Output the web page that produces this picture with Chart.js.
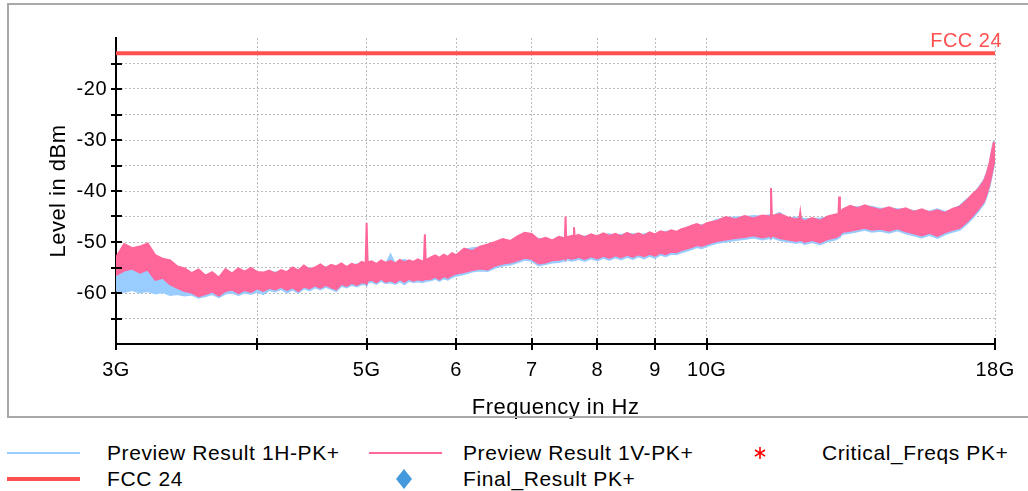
<!DOCTYPE html>
<html>
<head>
<meta charset="utf-8">
<script src="https://cdn.jsdelivr.net/npm/chart.js@4.4.1/dist/chart.umd.min.js"></script>
<style>
    body { margin: 0; background: #fff; font-family: "Liberation Sans", Arial, sans-serif; }
    #wrap { position: relative; width: 1028px; height: 491px; overflow: hidden; }
    #plot { position: absolute; left: 0; top: 0; }
    #frame { position: absolute; left: 7px; top: 3px; width: 1030px; height: 411px; border: 2px solid #a8a8a8; pointer-events: none; }
    .lg-text { position: absolute; font-size: 21px; line-height: 24px; letter-spacing: 0.6px; color: #000; white-space: nowrap; }
    .lg-sym { position: absolute; }
</style>
</head>
<body>
<div id="wrap">
    <canvas id="plot" width="1028" height="420"></canvas>
    <div id="frame"></div>
    <div id="legend"></div>
</div>
<script>
// sweep frequencies in GHz
const freqGHz = [
    3.00, 3.05, 3.10, 3.15, 3.20, 3.25, 3.30, 3.35, 3.40, 3.45, 3.50, 3.55, 3.60, 3.65, 3.70, 3.75, 3.80, 3.85, 3.90, 3.95, 4.00,
    4.05, 4.10, 4.15, 4.20, 4.25, 4.30, 4.35, 4.40, 4.45, 4.50, 4.55, 4.60, 4.65, 4.70, 4.75, 4.80, 4.85, 4.90, 4.95, 4.99, 5.00, 5.01,
    5.05, 5.10, 5.15, 5.20, 5.25, 5.30, 5.35, 5.40, 5.45, 5.50, 5.55, 5.60, 5.62, 5.63, 5.64, 5.70, 5.75, 5.80, 5.85, 5.90, 5.95, 6.00,
    6.1, 6.2, 6.3, 6.4, 6.5, 6.6, 6.7, 6.8, 6.9, 7.0, 7.1, 7.2, 7.3, 7.4, 7.49, 7.50, 7.51, 7.6, 7.62, 7.63, 7.64, 7.7, 7.8, 7.9,
    8.0, 8.1, 8.2, 8.3, 8.4, 8.5, 8.6, 8.7, 8.8, 8.9, 9.0, 9.1, 9.2, 9.3, 9.4, 9.5, 9.6, 9.7, 9.8, 9.9, 10.0,
    10.2, 10.4, 10.6, 10.8, 11.0, 11.2, 11.38, 11.40, 11.42, 11.6, 11.8, 12.0, 12.08, 12.10, 12.12, 12.2, 12.4, 12.6, 12.8, 13.0,
    13.08, 13.10, 13.12, 13.2, 13.4, 13.6, 13.8, 14.0,
    14.25, 14.5, 14.75, 15.0, 15.25, 15.5, 15.75, 16.0, 16.25, 16.5, 16.75, 17.0, 17.2, 17.4, 17.6, 17.7, 17.8, 17.9, 17.95, 18.0
];

// Preview Result 1V-PK+ (upper / lower edge of the trace, dBm)
const vHigh = [
    -53.0, -50.4, -51.2, -50.9, -50.3, -52.6, -53.3, -53.6, -54.8, -55.2, -56.1, -55.4, -56.6, -55.9, -57.0, -55.3, -56.2, -55.2, -55.8, -55.1, -55.9,
    -56.0, -55.6, -56.2, -55.5, -55.9, -55.0, -55.6, -54.6, -55.4, -55.0, -54.4, -55.1, -54.5, -54.8, -54.2, -54.9, -54.3, -54.6, -53.9, -54.2, -46.3, -54.0,
    -53.8, -54.3, -53.6, -54.1, -53.7, -54.2, -53.5, -54.0, -53.6, -53.9, -53.4, -53.8, -53.7, -48.5, -53.6, -53.0, -52.6, -53.1, -52.5, -52.9, -52.2, -52.6,
    -51.3, -51.8, -50.9, -50.5, -50.0, -49.4, -49.8, -48.9, -48.2, -48.4, -49.6, -49.2, -49.7, -49.0, -49.3, -45.0, -49.1, -48.8, -49.0, -47.1, -48.9, -48.6, -49.1, -48.5,
    -48.9, -48.3, -48.8, -48.4, -48.9, -48.2, -48.7, -48.3, -48.8, -48.1, -48.5, -47.9, -48.2, -47.7, -48.0, -47.5, -47.2, -46.8, -46.5, -46.9, -46.3,
    -45.9, -45.1, -45.6, -44.9, -45.4, -44.8, -45.0, -39.4, -44.9, -44.5, -45.2, -45.6, -45.4, -44.2, -45.5, -45.9, -45.3, -45.8, -45.0, -44.6,
    -44.5, -41.1, -44.2, -43.6, -42.9, -43.4, -42.8, -43.3,
    -43.7, -43.2, -43.8, -43.4, -44.1, -43.6, -44.2, -43.8, -44.3, -43.5, -43.1, -41.8, -40.6, -39.6, -38.0, -36.6, -34.5, -31.8, -30.6, -30.8
];
const vLow = [
    -56.5, -55.6, -55.2, -56.0, -55.4, -57.4, -57.0, -58.3, -59.0, -59.6, -59.9, -60.6, -60.2, -59.7, -60.5, -59.6, -59.3, -60.0, -59.4, -59.8, -59.1,
    -59.6, -59.0, -59.3, -58.8, -59.4, -58.9, -59.6, -58.7, -59.1, -58.5, -59.0, -58.4, -58.9, -59.3, -58.2, -58.6, -58.0, -58.4, -57.9, -58.0, -58.2, -57.6,
    -57.4, -57.9, -57.2, -57.8, -57.5, -57.9, -57.3, -57.8, -57.2, -57.6, -57.3, -57.5, -57.4, -57.2, -57.3, -57.2, -56.8, -57.3, -56.7, -57.0, -56.5, -56.2,
    -55.9, -55.5, -55.2, -55.4, -54.6, -54.2, -54.0, -53.6, -53.1, -53.3, -54.2, -54.0, -53.6, -53.5, -53.2, -53.4, -53.0, -53.3, -53.1, -53.0, -53.2, -52.9, -53.3, -52.8,
    -53.2, -52.7, -53.1, -52.6, -53.0, -52.5, -52.9, -52.4, -52.8, -52.3, -52.7, -52.1, -52.4, -51.9, -52.0, -51.6, -51.3, -51.0, -50.6, -50.8, -50.4,
    -49.8, -49.5, -49.2, -49.0, -48.7, -49.1, -48.8, -48.9, -48.7, -49.2, -49.5, -49.8, -49.6, -49.7, -49.5, -50.0, -49.6, -50.1, -49.4, -49.1,
    -48.8, -48.6, -48.4, -48.0, -47.8, -47.5, -47.2, -47.6,
    -47.4, -47.8, -47.3, -47.9, -48.3, -48.7, -48.2, -48.8, -48.1, -47.6, -47.2, -46.0, -44.8, -43.5, -42.0, -40.5, -38.6, -36.0, -34.6, -34.2
];

// Preview Result 1H-PK+ (upper / lower edge of the trace, dBm)
const hHigh = [
    -56.0, -55.5, -55.0, -55.6, -55.2, -56.8, -56.8, -58.0, -58.4, -56.6, -57.0, -56.8, -57.2, -56.8, -57.5, -56.2, -56.8, -55.9, -56.0, -55.6, -56.2,
    -56.3, -55.9, -56.0, -55.8, -56.1, -55.3, -55.8, -55.0, -55.2, -55.3, -54.8, -55.0, -54.8, -55.0, -54.6, -55.1, -54.6, -54.4, -54.3, -54.5, -51.5, -54.3,
    -54.1, -54.5, -53.8, -54.3, -52.5, -54.4, -53.8, -53.5, -53.9, -54.1, -53.7, -53.9, -53.9, -53.7, -53.8, -53.2, -53.0, -53.3, -52.8, -53.1, -52.4, -52.9,
    -51.5, -51.2, -51.1, -50.8, -50.2, -49.7, -49.9, -49.2, -48.6, -48.8, -49.4, -49.5, -49.9, -49.3, -49.5, -49.4, -49.3, -49.0, -49.2, -49.1, -49.1, -48.9, -48.9, -48.7,
    -49.1, -48.6, -48.5, -48.7, -48.6, -48.4, -48.5, -48.6, -48.5, -48.3, -48.7, -48.2, -48.0, -47.9, -48.2, -47.7, -47.4, -47.0, -46.7, -46.7, -46.5,
    -45.7, -45.3, -45.2, -45.1, -44.9, -45.0, -44.7, -44.9, -45.0, -44.3, -45.4, -45.2, -45.5, -45.6, -45.3, -45.5, -45.5, -45.4, -45.2, -44.8,
    -44.7, -44.6, -44.5, -43.9, -43.1, -43.2, -43.0, -43.1,
    -43.5, -43.4, -43.6, -43.6, -43.9, -43.8, -44.0, -43.6, -44.1, -43.7, -42.9, -41.6, -40.8, -39.4, -37.8, -36.4, -34.7, -31.6, -30.4, -30.6
];
const hLow = [
    -59.5, -59.8, -59.4, -59.9, -59.6, -60.1, -59.8, -60.4, -60.2, -60.5, -60.3, -60.9, -60.6, -60.2, -60.8, -60.1, -59.9, -60.4, -59.9, -60.2, -59.7,
    -60.2, -59.4, -59.7, -59.2, -59.9, -59.3, -59.9, -59.1, -59.5, -58.9, -59.3, -58.8, -59.2, -59.6, -58.6, -58.9, -58.4, -58.7, -58.3, -58.3, -58.5, -58.0,
    -57.8, -58.2, -57.6, -58.1, -57.9, -58.2, -57.7, -58.3, -57.6, -57.9, -57.7, -57.9, -57.8, -57.6, -57.7, -57.5, -57.2, -57.6, -57.1, -57.4, -56.9, -56.6,
    -56.3, -55.8, -55.6, -55.7, -55.0, -54.6, -54.4, -54.0, -53.5, -53.7, -54.6, -54.3, -54.0, -53.9, -53.6, -53.7, -53.4, -53.7, -53.5, -53.4, -53.6, -53.3, -53.7, -53.2,
    -53.6, -53.1, -53.5, -53.0, -53.4, -52.9, -53.3, -52.8, -53.2, -52.7, -53.1, -52.5, -52.8, -52.3, -52.4, -52.0, -51.7, -51.4, -51.0, -51.2, -50.8,
    -50.2, -49.9, -49.6, -49.4, -49.1, -49.5, -49.2, -49.3, -49.1, -49.6, -49.9, -50.2, -50.0, -50.1, -49.9, -50.4, -50.0, -50.5, -49.8, -49.5,
    -49.2, -49.0, -48.8, -48.4, -48.2, -47.9, -47.6, -48.0,
    -47.8, -48.2, -47.7, -48.3, -48.7, -49.1, -48.6, -49.2, -48.5, -48.0, -47.6, -46.4, -45.2, -43.9, -42.4, -40.9, -39.0, -36.4, -35.0, -34.6
];

// FCC 24 limit line
const fccFreqGHz = [3, 18];
const fccLevel = [-13, -13];

// axes
const xTickValues = [3e9, 4e9, 5e9, 6e9, 7e9, 8e9, 9e9, 10e9, 18e9];
const xTickLabels = ['3G', '', '5G', '6', '7', '8', '9', '10G', '18G'];
const yTickValues = [-65, -60, -55, -50, -45, -40, -35, -30, -25, -20, -15];
const yTickLabels = ['', '-60', '', '-50', '', '-40', '', '-30', '', '-20', ''];

const legendLabels = ['Preview Result 1H-PK+', 'Preview Result 1V-PK+', 'Critical_Freqs PK+', 'FCC 24', 'Final_Result PK+'];

const colH = '#99ccff';
const colV = '#ff6699';
const colFcc = '#ff5050';
const fontFamily = '"Liberation Sans", Arial, sans-serif';

document.addEventListener('DOMContentLoaded', function () {
    const toPoints = (freqs, values) => freqs.map((f, i) => ({ x: f * 1e9, y: values[i] }));

    const data = {
        datasets: [
            {
                label: 'FCC 24',
                data: toPoints(fccFreqGHz, fccLevel),
                borderColor: colFcc,
                borderWidth: 4,
                pointRadius: 0,
                fill: false,
                order: 0
            },
            {
                label: 'Preview Result 1V-PK+',
                data: toPoints(freqGHz, vHigh),
                borderColor: colV,
                backgroundColor: colV,
                borderWidth: 2,
                pointRadius: 0,
                fill: '+1',
                order: 1
            },
            {
                label: 'V low',
                data: toPoints(freqGHz, vLow),
                borderColor: colV,
                borderWidth: 2,
                pointRadius: 0,
                fill: false,
                order: 1
            },
            {
                label: 'Preview Result 1H-PK+',
                data: toPoints(freqGHz, hHigh),
                borderColor: colH,
                backgroundColor: colH,
                borderWidth: 2,
                pointRadius: 0,
                fill: '+1',
                order: 2
            },
            {
                label: 'H low',
                data: toPoints(freqGHz, hLow),
                borderColor: colH,
                borderWidth: 2,
                pointRadius: 0,
                fill: false,
                order: 2
            }
        ]
    };

    // tick marks that cross the axes, plus the limit line name
    const axisMarks = {
        id: 'axisMarks',
        beforeDraw(chart) {
            chart.ctx.letterSpacing = '0.5px';
        },
        afterDraw(chart) {
            const { ctx, scales: { x, y } } = chart;
            ctx.save();
            ctx.strokeStyle = '#000';
            ctx.lineWidth = 2;
            ctx.beginPath();
            xTickValues.forEach(v => {
                const px = Math.round(x.getPixelForValue(v));
                ctx.moveTo(px, y.bottom - 6);
                ctx.lineTo(px, y.bottom + 6);
            });
            yTickValues.forEach(v => {
                const py = Math.round(y.getPixelForValue(v));
                ctx.moveTo(x.left - 5, py);
                ctx.lineTo(x.left + 6, py);
            });
            ctx.stroke();

            ctx.fillStyle = colFcc;
            ctx.font = '20px ' + fontFamily;
            ctx.textAlign = 'right';
            ctx.textBaseline = 'alphabetic';
            ctx.fillText('FCC 24', x.right + 7, y.getPixelForValue(fccLevel[1]) - 6);
            ctx.restore();
        }
    };

    new Chart(document.getElementById('plot'), {
        type: 'line',
        data: data,
        options: {
            responsive: false,
            animation: false,
            devicePixelRatio: 1,
            layout: { padding: { left: 0, right: 31, top: 38, bottom: 0 } },
            plugins: {
                legend: { display: false },
                tooltip: { enabled: false }
            },
            scales: {
                x: {
                    type: 'logarithmic',
                    min: 3e9,
                    max: 18e9,
                    afterBuildTicks: function (axis) {
                        axis.ticks = xTickValues.map(v => ({ value: v }));
                    },
                    afterFit: function (axis) {
                        axis.height = 76;
                    },
                    ticks: {
                        autoSkip: false,
                        maxRotation: 0,
                        padding: 14,
                        color: '#000',
                        font: { family: fontFamily, size: 20 },
                        callback: function (value, index) {
                            return xTickLabels[index];
                        }
                    },
                    grid: { color: '#bcbcbc', lineWidth: 1, drawTicks: false },
                    border: { display: true, color: '#000', width: 2, dash: [2, 2] },
                    title: {
                        display: true,
                        text: 'Frequency in Hz',
                        color: '#000',
                        font: { family: fontFamily, size: 22 },
                        padding: { top: 0, bottom: -1 }
                    }
                },
                y: {
                    min: -70,
                    max: -10,
                    afterBuildTicks: function (axis) {
                        axis.ticks = yTickValues.map(v => ({ value: v }));
                    },
                    afterFit: function (axis) {
                        axis.width = 116;
                    },
                    ticks: {
                        autoSkip: false,
                        padding: 9,
                        color: '#000',
                        font: { family: fontFamily, size: 20 },
                        callback: function (value, index) {
                            return yTickLabels[index];
                        }
                    },
                    grid: { color: '#bcbcbc', lineWidth: 1, drawTicks: false },
                    border: { display: true, color: '#000', width: 2, dash: [2, 2] },
                    title: {
                        display: true,
                        text: 'Level in dBm',
                        color: '#000',
                        font: { family: fontFamily, size: 22 },
                        padding: { top: 46, bottom: 0 }
                    }
                }
            }
        },
        plugins: [axisMarks]
    });

    // legend below the frame
    const legend = document.getElementById('legend');
    const svgNS = 'http://www.w3.org/2000/svg';
    function addText(text, left, top) {
        const d = document.createElement('div');
        d.className = 'lg-text';
        d.style.left = left + 'px';
        d.style.top = top + 'px';
        d.textContent = text;
        legend.appendChild(d);
    }
    function addSymbol(left, top, w, h, draw) {
        const svg = document.createElementNS(svgNS, 'svg');
        svg.setAttribute('class', 'lg-sym');
        svg.setAttribute('width', w);
        svg.setAttribute('height', h);
        svg.style.left = left + 'px';
        svg.style.top = top + 'px';
        svg.innerHTML = draw;
        legend.appendChild(svg);
    }

    const row1 = 453, row2 = 479;
    addSymbol(7, row1 - 3, 73, 6, `<line x1="0" y1="3" x2="73" y2="3" stroke="${colH}" stroke-width="2"/>`);
    addText(legendLabels[0], 107, row1 - 12);
    addSymbol(369, row1 - 3, 73, 6, `<line x1="0" y1="3" x2="73" y2="3" stroke="${colV}" stroke-width="2"/>`);
    addText(legendLabels[1], 463, row1 - 12);
    addSymbol(754, row1 - 7, 12, 14,
        '<g stroke="#ff0000" stroke-width="1.6"><line x1="6" y1="1" x2="6" y2="13"/>' +
        '<line x1="1" y1="4" x2="11" y2="10"/><line x1="1" y1="10" x2="11" y2="4"/></g>');
    addText(legendLabels[2], 822, row1 - 12);
    addSymbol(7, row2 - 4, 73, 8, `<line x1="0" y1="4" x2="73" y2="4" stroke="${colFcc}" stroke-width="4"/>`);
    addText(legendLabels[3], 107, row2 - 12);
    addSymbol(396, row2 - 10, 16, 20, '<polygon points="8,0 16,10 8,20 0,10" fill="#4499dd"/>');
    addText(legendLabels[4], 463, row2 - 12);
});
</script>
</body>
</html>
